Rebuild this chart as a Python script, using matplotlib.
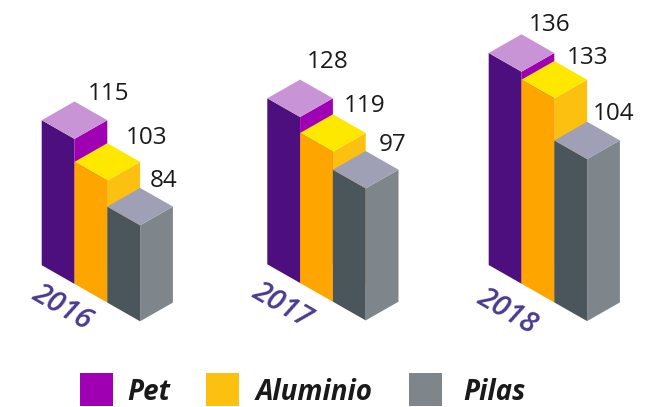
import matplotlib.pyplot as plt
from matplotlib.patches import Polygon, Rectangle

plt.rcParams["font.family"] = ["Open Sans", "DejaVu Sans"]

years = ["2016", "2017", "2018"]
series = ["Pet", "Aluminio", "Pilas"]

# printed numbers
pet = [115, 128, 136]
aluminio = [103, 119, 133]
pilas = [84, 97, 104]

# the printed bars are not proportional to their numbers, so these are read off the picture
pet_drawn = [145, 166, 212]
aluminio_drawn = [122, 150, 204]
pilas_drawn = [96, 132, 162]

# left face, right face, top face
colors = [
    ("#4d0f7d", "#a000b4", "#c994d6"),
    ("#ffa500", "#fcc010", "#ffe800"),
    ("#4a565b", "#7e868c", "#9fa0b5"),
]

# layout
DX = 32.8
DY = 18.7
group_x = [41.7, 267.3, 488.7]
group_y = [265.2, 264.3, 265.0]
year_pos = [(62, 308), (282, 306), (507, 312)]
label_pos = [
    [(109, 94), (147, 138), (164, 181)],
    [(328, 62), (365, 106), (393, 145)],
    [(550, 25), (588, 58), (614, 114)],
]
legend_x = [79.7, 206, 409]
legend_text_x = [127, 256, 463]


def draw_bar(ax, x, y, h, cols):
    # x, y is the left corner of the base
    top = y - h
    ax.add_patch(Polygon([(x, y), (x + DX, y + DY), (x + DX, top + DY), (x, top)], fc=cols[0], lw=0))
    ax.add_patch(
        Polygon(
            [(x + DX, y + DY), (x + 2 * DX, y), (x + 2 * DX, top), (x + DX, top + DY)],
            fc=cols[1],
            lw=0,
        )
    )
    ax.add_patch(
        Polygon(
            [(x, top), (x + DX, top - DY), (x + 2 * DX, top), (x + DX, top + DY)],
            fc=cols[2],
            lw=0,
        )
    )


fig = plt.figure(figsize=(6.65, 4.07), dpi=100)
ax = fig.add_axes([0, 0, 1, 1])
ax.set_xlim(0, 665)
ax.set_ylim(407, 0)
ax.axis("off")

values = [pet, aluminio, pilas]
drawn = [pet_drawn, aluminio_drawn, pilas_drawn]

for g in range(len(years)):
    for s in range(len(series)):
        draw_bar(ax, group_x[g] + s * DX, group_y[g] + s * DY, drawn[s][g], colors[s])
        lx, ly = label_pos[g][s]
        ax.text(lx, ly, str(values[s][g]), fontsize=17.5, color="#1a1a1a", ha="center", va="center")
    yx, yy = year_pos[g]
    ax.text(
        yx,
        yy,
        years[g],
        fontsize=21,
        color="#4b3a8f",
        style="italic",
        weight="semibold",
        rotation=-30,
        rotation_mode="anchor",
        ha="center",
        va="center",
    )

for s, name in enumerate(series):
    ax.add_patch(Rectangle((legend_x[s], 373), 33, 33, fc=colors[s][1], lw=0))
    ax.text(
        legend_text_x[s],
        400,
        name,
        fontsize=20,
        color="#1a1a1a",
        style="italic",
        weight="bold",
        ha="left",
        va="baseline",
    )

fig.savefig("out.png", dpi=100)
